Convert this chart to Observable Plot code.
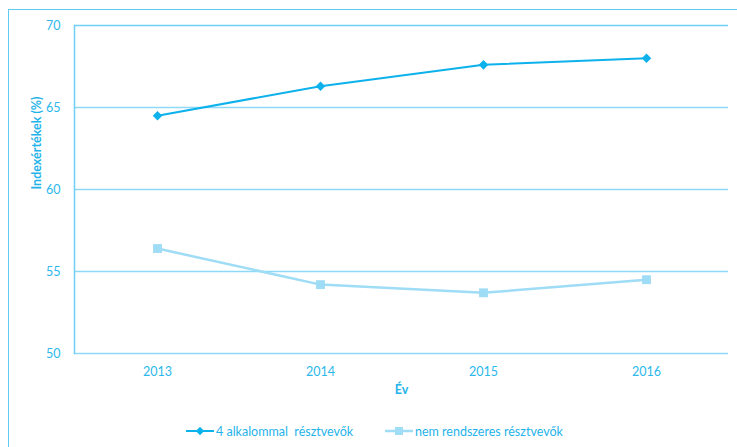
<!DOCTYPE html>
<html>
<head>
<meta charset="utf-8">
<script src="https://cdn.jsdelivr.net/npm/d3@7"></script>
<script src="https://cdn.jsdelivr.net/npm/@observablehq/plot@0.6"></script>
<style>
  html, body { margin: 0; padding: 0; background: #fff; overflow: hidden; }
  #wrap { position: relative; width: 737px; height: 447px; overflow: hidden; font-family: Lato, "Open Sans", sans-serif; }
  #border { position: absolute; left: 8px; top: 9px; width: 800px; height: 500px; border-left: 1.5px solid #5fcbf1; border-top: 1.5px solid #5fcbf1; }
  #chart { position: absolute; left: 0; top: 0; }
  #legend { position: absolute; top: 423px; left: 0; width: 737px; height: 16px; font-size: 12.5px; color: #1fb3ea; white-space: pre; }
  .item { position: absolute; top: 0; display: flex; align-items: center; height: 16px; }
  .item svg { margin-right: 2px; }
</style>
</head>
<body>
<div id="wrap">
  <div id="border"></div>
  <div id="chart"></div>
  <div id="legend"></div>
</div>
<script>
const years = ["2013", "2014", "2015", "2016"];
const seriesNames = ["4 alkalommal  résztvevők", "nem rendszeres résztvevők"];
const series1 = [64.5, 66.3, 67.6, 68.0];
const series2 = [56.4, 54.2, 53.7, 54.5];
const yTicks = [50, 55, 60, 65, 70];
const colors = ["#0db1ec", "#9fdcf5"];

const data1 = years.map((y, i) => ({year: y, value: series1[i]}));
const data2 = years.map((y, i) => ({year: y, value: series2[i]}));

const tickColor = "#2cb8ec";
const gridColor = "#8fd9f6";

const chart = Plot.plot({
  width: 737,
  height: 447,
  marginLeft: 74,
  marginRight: 9,
  marginTop: 25,
  marginBottom: 94,
  style: {fontFamily: "Lato, 'Open Sans', sans-serif", fontSize: "12.5px", background: "transparent", overflow: "visible"},
  x: {type: "point", domain: years, padding: 0.5},
  y: {domain: [50, 70]},
  marks: [
    Plot.ruleY(yTicks, {stroke: d => d === 70 ? "#6fd0f4" : gridColor, strokeWidth: 1.5}),
    Plot.frame({anchor: "left", stroke: "#6fd0f4", strokeWidth: 1.5}),
    Plot.axisY({ticks: yTicks, tickSize: 0, tickPadding: 14, label: null, color: tickColor, fontSize: 12.5}),
    Plot.axisX({tickSize: 0, tickPadding: 14, label: null, color: tickColor, fontSize: 12.5}),
    Plot.line(data2, {x: "year", y: "value", stroke: colors[1], strokeWidth: 2.5}),
    Plot.dot(data2, {x: "year", y: "value", symbol: "square", fill: colors[1], stroke: "none", r: 5}),
    Plot.line(data1, {x: "year", y: "value", stroke: colors[0], strokeWidth: 2}),
    Plot.dot(data1, {x: "year", y: "value", symbol: "diamond2", fill: colors[0], stroke: "none", r: 4.3}),
    Plot.text(["Év"], {frameAnchor: "bottom", dy: 40, fill: "#1fb3ea", fontWeight: "bold", fontSize: 12.5}),
    Plot.text(["Indexértékek (%)"], {frameAnchor: "left", dx: -38, rotate: -90, fill: "#1fb3ea", fontWeight: "bold", fontSize: 12.5})
  ]
});
document.getElementById("chart").appendChild(chart);

// Legend
const legend = document.getElementById("legend");
const legendLeft = [186, 385];
seriesNames.forEach((name, i) => {
  const item = document.createElement("div");
  item.className = "item";
  item.style.left = legendLeft[i] + "px";
  const sym = d3.symbol(d3.symbolSquare, i === 0 ? 36 : 64)();
  const svg = d3.create("svg").attr("width", 28).attr("height", 16);
  svg.append("line").attr("x1", 0).attr("x2", 28).attr("y1", 8).attr("y2", 8)
    .attr("stroke", colors[i]).attr("stroke-width", i === 0 ? 2 : 2.5);
  svg.append("path").attr("d", sym)
    .attr("transform", i === 0 ? "translate(14,8) rotate(45)" : "translate(14,8)")
    .attr("fill", colors[i]);
  item.appendChild(svg.node());
  const span = document.createElement("span");
  span.textContent = name;
  item.appendChild(span);
  legend.appendChild(item);
});
</script>
</body>
</html>
